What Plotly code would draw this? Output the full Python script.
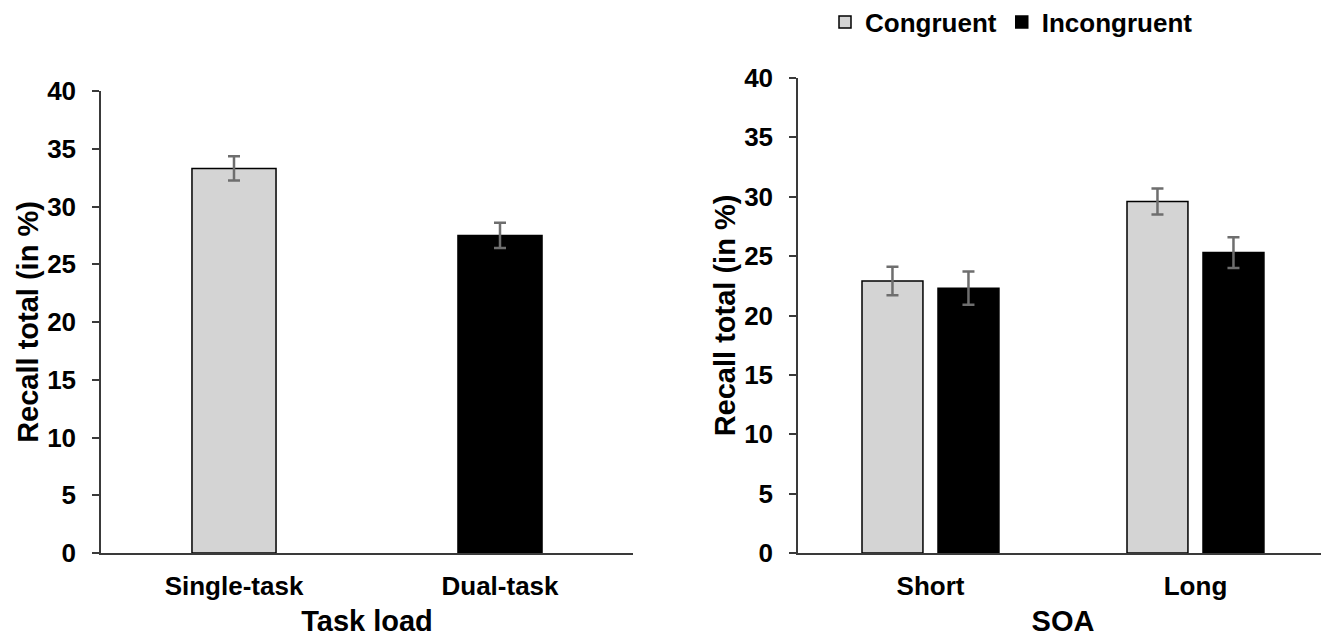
import plotly.graph_objects as go

# ---- data ----
load_categories = ["Single-task", "Dual-task"]
load_values = [33.3, 27.5]
load_errors = [1.05, 1.1]

soa_categories = ["Short", "Long"]
congruent_values = [22.9, 29.6]
congruent_errors = [1.2, 1.1]
incongruent_values = [22.3, 25.3]
incongruent_errors = [1.4, 1.3]

y_ticks = [0, 5, 10, 15, 20, 25, 30, 35, 40]

# ---- style ----
FONT = "Liberation Sans, Arial, sans-serif"
LIGHT = "#d4d4d4"
DARK = "#000000"
ERR = "#6e6e6e"
AXIS = "#3a3a3a"

OFFX, OFFY = 5, 8  # page offset of the figure
W, H = 1329 - OFFX, 639 - OFFY
# plot area in screen pixels -> figure pixels
PL, PR, PT, PB = 98 - OFFX, 1325 - OFFX, 78 - OFFY, 553 - OFFY
PW, PH = PR - PL, PB - PT

def fx(p):  # screen px -> paper fraction
    return (p - OFFX - PL) / PW

def fy(p):
    return (PB - (p - OFFY)) / PH

fig = go.Figure()

fig.add_trace(go.Bar(
    x=load_categories, y=load_values,
    marker=dict(color=[LIGHT, DARK], line=dict(color="black", width=1.5)),
    width=0.316,
    error_y=dict(type="data", array=load_errors, color=ERR, thickness=2.5, width=6),
    showlegend=False, xaxis="x", yaxis="y",
))

fig.add_trace(go.Bar(
    name="Congruent", x=soa_categories, y=congruent_values,
    marker=dict(color=LIGHT, line=dict(color="black", width=1.5)),
    width=0.23, offset=-0.2585,
    error_y=dict(type="data", array=congruent_errors, color=ERR, thickness=2.5, width=6),
    xaxis="x2", yaxis="y2",
))
fig.add_trace(go.Bar(
    name="Incongruent", x=soa_categories, y=incongruent_values,
    marker=dict(color=DARK, line=dict(color="black", width=1.5)),
    width=0.23, offset=0.0283,
    error_y=dict(type="data", array=incongruent_errors, color=ERR, thickness=2.5, width=6),
    xaxis="x2", yaxis="y2",
))

tick_font = dict(family=FONT, size=26, color="black", weight=700)
title_font = dict(family=FONT, size=29, color="black", weight=700)

common_x = dict(
    showline=True, linecolor=AXIS, linewidth=1.5, ticks="", showgrid=False,
    tickfont=tick_font, range=[-0.5, 1.5], zeroline=False,
    ticklabelstandoff=9,
)
common_y = dict(
    showline=True, linecolor=AXIS, linewidth=1.5, ticks="outside", ticklen=7,
    tickcolor=AXIS, tickwidth=1.5, showgrid=False, zeroline=False,
    tickfont=tick_font, range=[0, 40], tickvals=y_ticks,
    title_font=title_font, ticklabelstandoff=11,
)

fig.update_layout(
    width=W, height=H,
    margin=dict(l=PL, r=W - PR, t=PT, b=H - PB, autoexpand=False),
    paper_bgcolor="white", plot_bgcolor="white",
    barmode="overlay",
    font=dict(family=FONT, color="black"),
    xaxis=dict(domain=[0, fx(630)], anchor="y",
               title=dict(text="Task load", font=title_font, standoff=11), **common_x),
    yaxis=dict(domain=[0, fy(91)], anchor="x",
               title=dict(text="Recall total (in %)", standoff=0), **common_y),
    xaxis2=dict(domain=[fx(795), 1], anchor="y2",
                title=dict(text="SOA", font=title_font, standoff=11), **common_x),
    yaxis2=dict(domain=[0, 1], anchor="x2",
                title=dict(text="Recall total (in %)", standoff=0), **common_y),
    legend=dict(orientation="h", x=fx(822), y=fy(22), xanchor="left", yanchor="middle",
                font=dict(family=FONT, size=26, color="black", weight=700),
                itemwidth=30, bgcolor="rgba(0,0,0,0)"),
)

fig.write_html("out.html")
